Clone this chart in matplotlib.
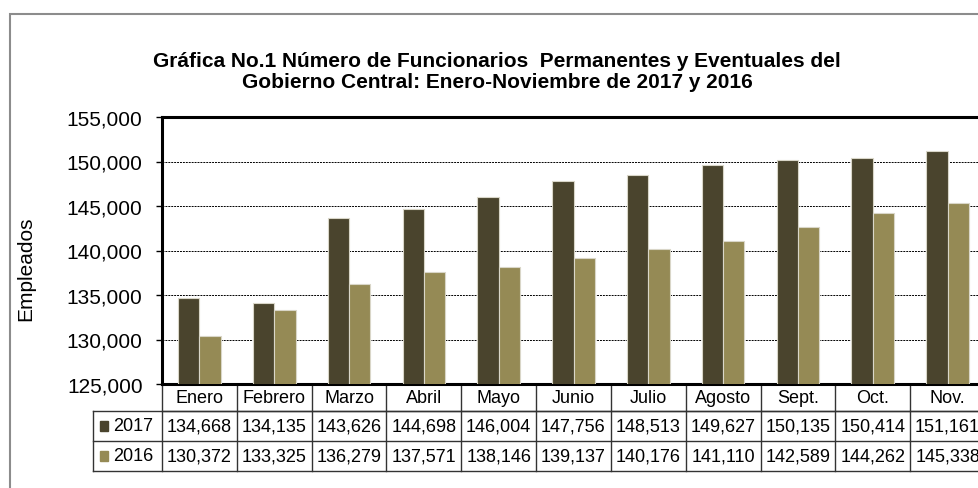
import matplotlib.pyplot as plt
import matplotlib.transforms as mtransforms
from matplotlib.patches import Rectangle
import numpy as np

plt.rcParams['font.family'] = ['Liberation Sans', 'DejaVu Sans']

meses = ['Enero', 'Febrero', 'Marzo', 'Abril', 'Mayo', 'Junio', 'Julio',
         'Agosto', 'Sept.', 'Oct.', 'Nov.']
v2017 = [134668, 134135, 143626, 144698, 146004, 147756, 148513, 149627,
         150135, 150414, 151161]
v2016 = [130372, 133325, 136279, 137571, 138146, 139137, 140176, 141110,
         142589, 144262, 145338]
series = [('2017', v2017, '#4a442d'), ('2016', v2016, '#958a55')]

fig = plt.figure(figsize=(9.79, 4.89), dpi=100)
# outer chart frame (cut off on the right, like the reference)
fig.patches.append(Rectangle((10 / 979, -0.1), 1.2, 1 - 15 / 489 + 0.1,
                             transform=fig.transFigure, fill=False,
                             edgecolor='#8c8c8c', lw=1.5))

ax = fig.add_axes([162 / 979, 104 / 489, 823 / 979, 267 / 489])
x = np.arange(len(meses))
w = 0.285
ax.bar(x - w / 2, v2017, w, color=series[0][2], edgecolor='#d9d6c8', lw=0.8, zorder=3)
ax.bar(x + w / 2, v2016, w, color=series[1][2], edgecolor='#d9d6c8', lw=0.8, zorder=3)

ax.set_xlim(-0.5, len(meses) - 0.5)
ax.set_ylim(125000, 155000)
ax.set_yticks(np.arange(125000, 155001, 5000))
ax.yaxis.set_major_formatter(plt.FuncFormatter(lambda v, p: f'{int(v):,}'))
ax.tick_params(axis='y', labelsize=15, length=4, width=1, pad=10)
ax.set_xticks([])
ax.grid(axis='y', color='black', ls=(0, (2, 1)), lw=0.7, zorder=0)
for s in ['left', 'top', 'bottom']:
    ax.spines[s].set_linewidth(2.2)
ax.spines['right'].set_visible(False)
ax.set_ylabel('Empleados', fontsize=15)
ax.yaxis.set_label_coords(-0.154, 0.434)

fig.text(497 / 979, 1 - 72 / 489,
         'Gráfica No.1 Número de Funcionarios  Permanentes y Eventuales del\nGobierno Central: Enero-Noviembre de 2017 y 2016',
         ha='center', va='center', fontsize=15, fontweight='bold', linespacing=1.1)

# data table under the axis
tr = mtransforms.blended_transform_factory(ax.transData, ax.transAxes)
y_head = -27 / 267
y_r1 = -57 / 267
y_r2 = -87 / 267
x_lab = -0.5 - 69 / 74.8
lc = '#333333'
kw = dict(transform=tr, clip_on=False, color=lc, lw=1)

for i in range(len(meses) + 1):
    ax.plot([i - 0.5, i - 0.5], [0, y_r2], **kw)
ax.plot([x_lab, x_lab], [y_head, y_r2], **kw)
ax.plot([-0.5, len(meses) - 0.5], [y_head, y_head], **kw)
ax.plot([x_lab, len(meses) - 0.5], [y_head, y_head], **kw)
ax.plot([x_lab, len(meses) - 0.5], [y_r1, y_r1], **kw)
ax.plot([x_lab, len(meses) - 0.5], [y_r2, y_r2], **kw)

for i, m in enumerate(meses):
    ax.text(i, y_head / 2, m, transform=tr, ha='center', va='center', fontsize=13)

rows = [(y_head + y_r1) / 2, (y_r1 + y_r2) / 2]
for (name, vals, col), yc in zip(series, rows):
    ax.add_patch(Rectangle((x_lab + 0.09, yc - 0.017), 0.115, 0.034,
                           transform=tr, clip_on=False, color=col))
    ax.text(x_lab + 0.27, yc, name, transform=tr, ha='left', va='center', fontsize=13)
    for i, v in enumerate(vals):
        ax.text(i, yc, f'{v:,}', transform=tr, ha='center', va='center', fontsize=13)

fig.savefig('out.png', dpi=100)
